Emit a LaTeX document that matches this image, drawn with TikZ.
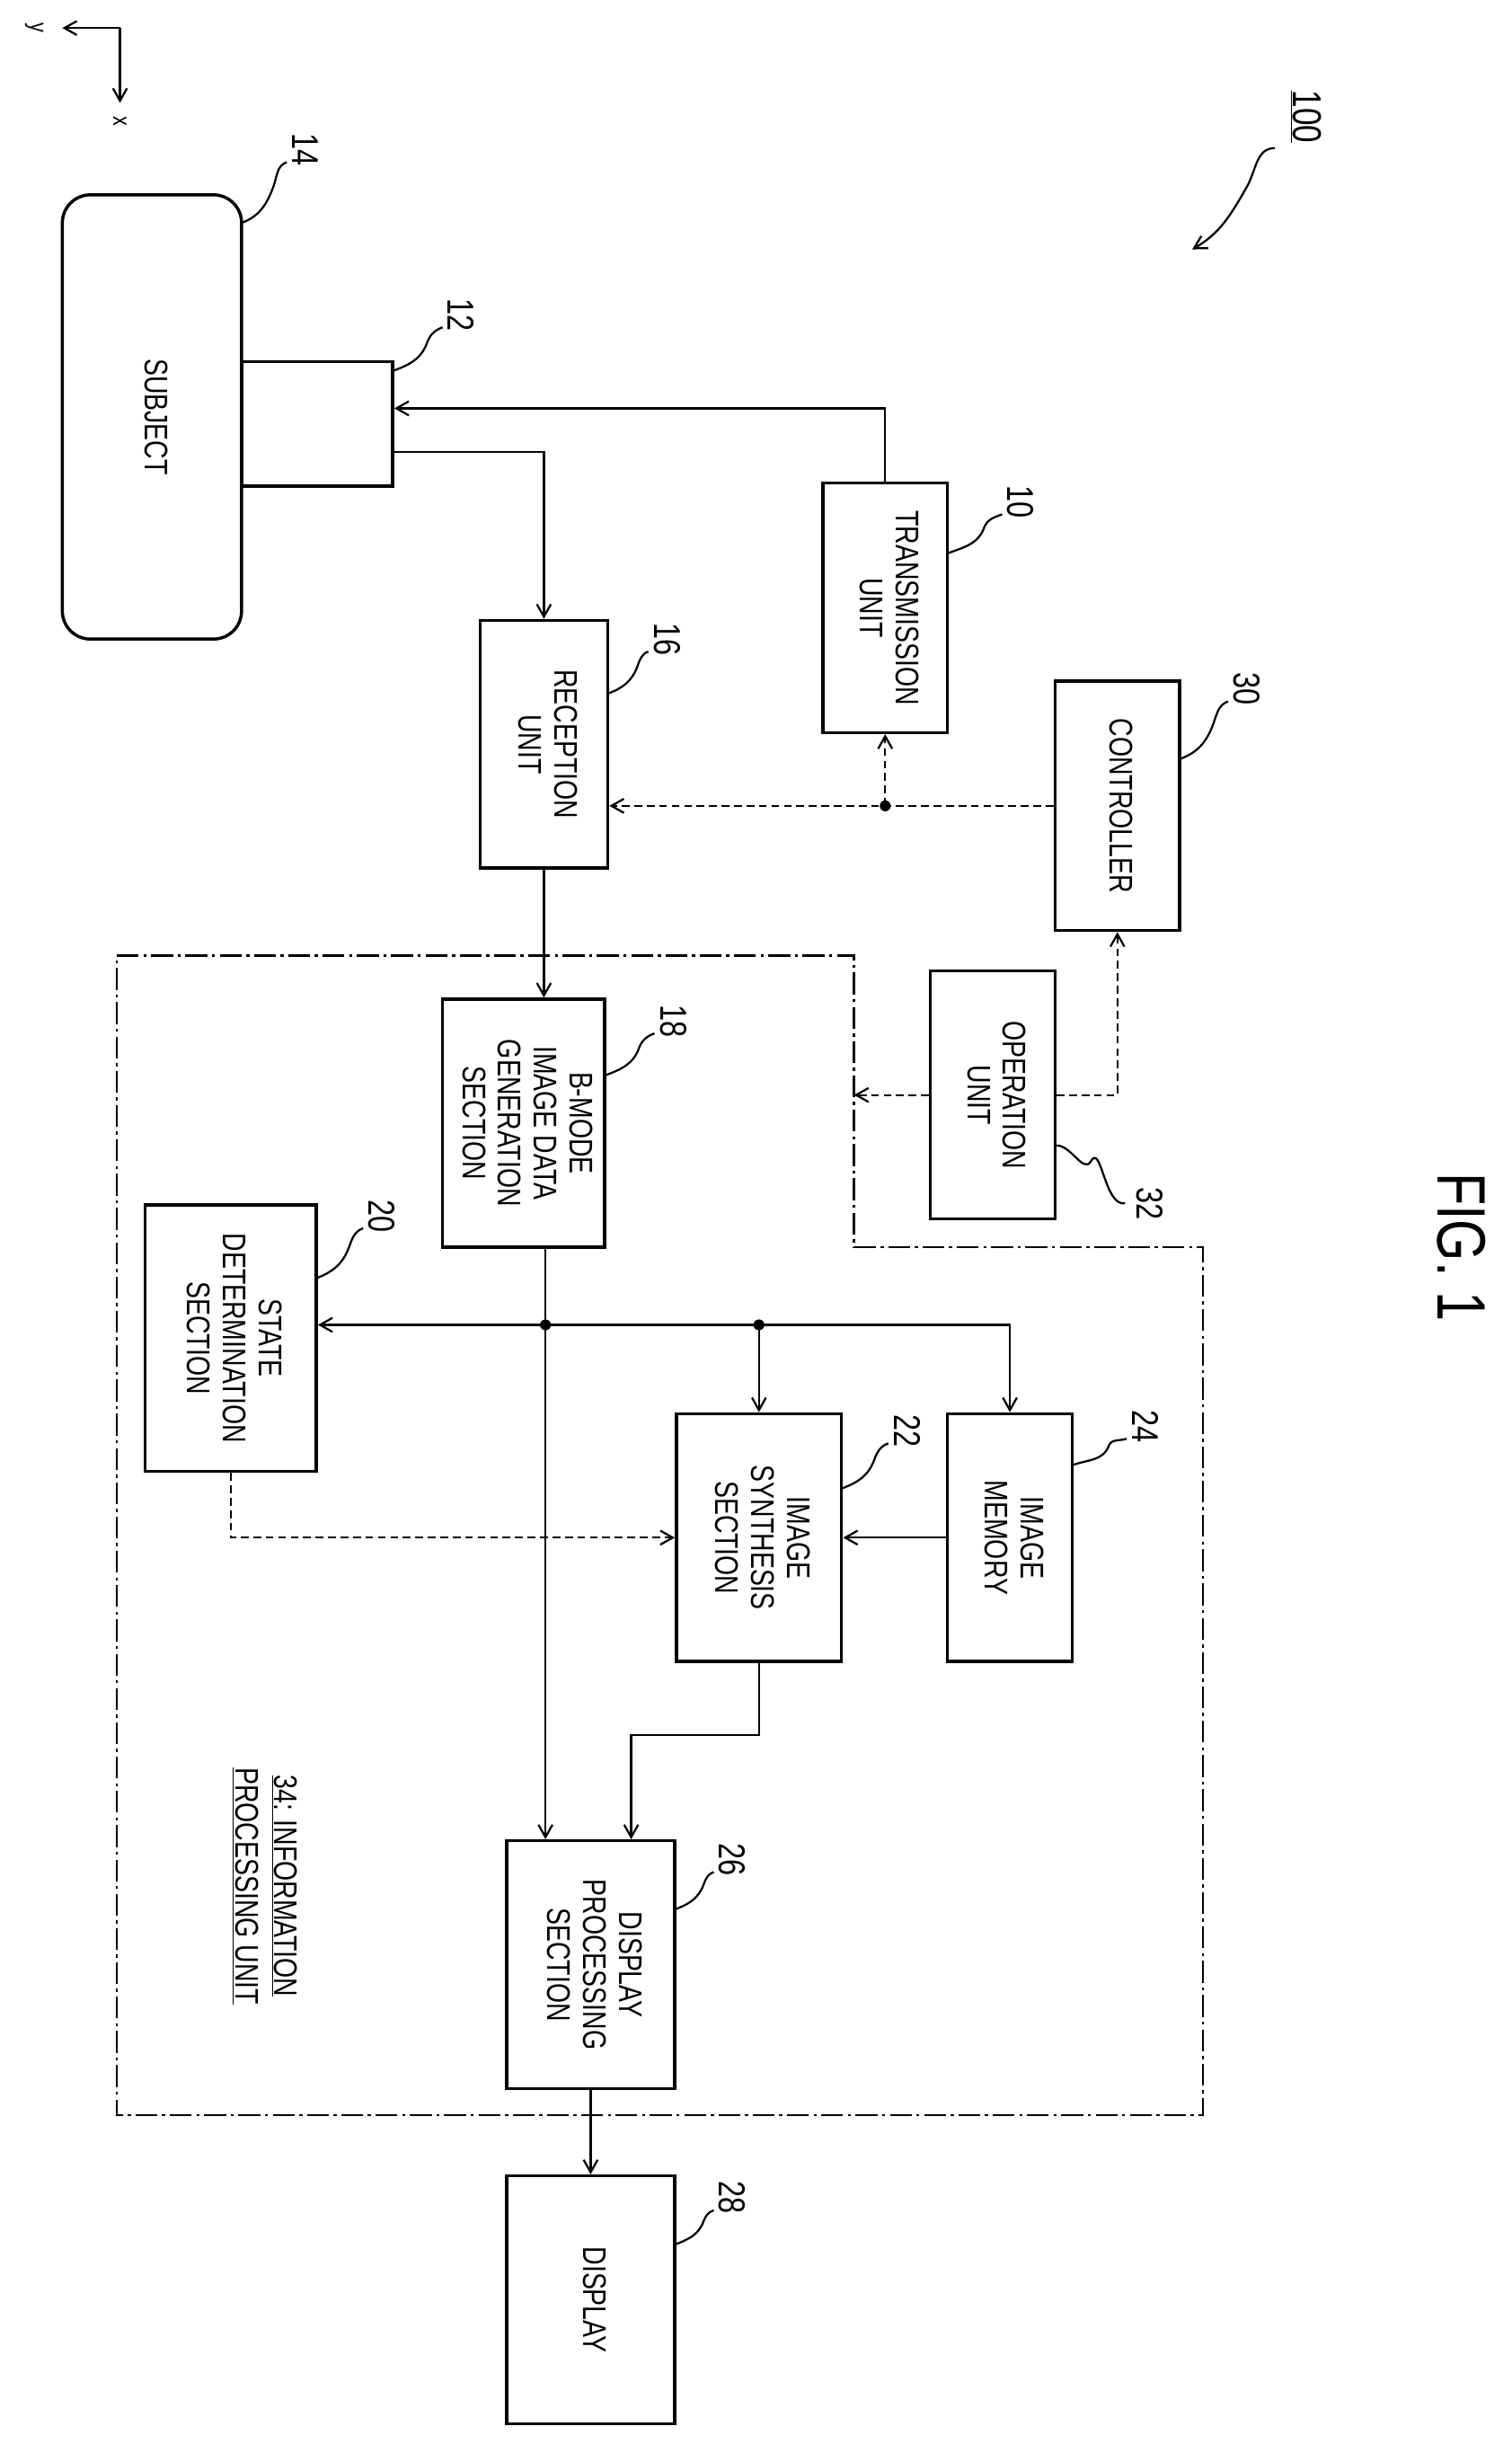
\documentclass[tikz,border=0pt]{standalone}
\usepackage{fontspec}
\setmainfont{Liberation Sans}[FakeStretch=0.78]
\usetikzlibrary{calc,arrows.meta}
\newcommand{\vtext}[1]{\rotatebox{-90}{\begin{tabular}{@{}c@{}}#1\end{tabular}}}
\newcommand{\refmark}[3]{% leader start, label position, text
  \draw[leader] (#1) to[out=20,in=-110] ($(#1)!0.5!(#2)$) to[out=70,in=200] ($(#2)+(-12,8)$);
  \node[reflabel] at (#2) {#3};}
\tikzset{
  box/.style={draw, line width=2pt, inner sep=0pt, font=\fontsize{21}{23}\selectfont},
  conn/.style={line width=1.3pt, -{Straight Barb[length=8pt,width=9pt]}},
  ctrl/.style={conn, dash pattern=on 5pt off 3pt},
  leader/.style={line width=1.3pt},
  reflabel/.style={rotate=-90, font=\fontsize{24}{24}\selectfont},
  dot/.style={circle, fill, inner sep=0pt, minimum size=7pt}
}
\begin{document}
\begin{tikzpicture}[x=1pt, y=-1pt]
  \useasboundingbox (0,0) rectangle (970,1568);

  % axes
  \coordinate (ax) at (77,18);
  \draw[conn] (ax) -- (40,18);
  \draw[conn] (ax) -- (77,66);
  \node[reflabel, font=\fontsize{16}{16}\selectfont] at (22,18) {y};
  \node[reflabel, font=\fontsize{16}{16}\selectfont] at (77,78) {x};

  % blocks
  \node[box, rounded corners=18pt, minimum width=115pt, minimum height=285pt] (subj) at (97.5,267.5) {\vtext{SUBJECT}};
  \node[box, minimum width=97pt, minimum height=80pt] (probe) at (203.5,272) {};
  \node[box, minimum width=80pt, minimum height=160pt] (tx) at (568,390) {\vtext{TRANSMISSION\\UNIT}};
  \node[box, minimum width=82pt, minimum height=159pt] (rx) at (349,477.5) {\vtext{RECEPTION\\UNIT}};
  \node[box, minimum width=80pt, minimum height=160pt] (ctl) at (717,517) {\vtext{CONTROLLER}};
  \node[box, minimum width=80pt, minimum height=159pt] (op) at (637,702.5) {\vtext{OPERATION\\UNIT}};
  \node[box, minimum width=104pt, minimum height=159pt] (bmode) at (336,720.5) {\vtext{B-MODE\\IMAGE DATA\\GENERATION\\SECTION}};
  \node[box, minimum width=110pt, minimum height=171pt] (state) at (148,858.5) {\vtext{STATE\\DETERMINATION\\SECTION}};
  \node[box, minimum width=106pt, minimum height=159pt] (synth) at (487,986.5) {\vtext{IMAGE\\SYNTHESIS\\SECTION}};
  \node[box, minimum width=80pt, minimum height=159pt] (mem) at (648,986.5) {\vtext{IMAGE\\MEMORY}};
  \node[box, minimum width=108pt, minimum height=159pt] (dproc) at (379,1260.5) {\vtext{DISPLAY\\PROCESSING\\SECTION}};
  \node[box, minimum width=108pt, minimum height=159pt] (disp) at (379,1475.5) {\vtext{DISPLAY}};

  % information processing unit
  \draw[line width=1.3pt, dash pattern=on 14pt off 3pt on 2pt off 3pt]
    (75,613) -- (548,613) -- (548,800) -- (772,800) -- (772,1357) -- (75,1357) -- cycle;
  \coordinate (ipu) at (548,702.5);
  \node[rotate=-90, font=\fontsize{21}{25}\selectfont, align=center] (ipulabel) at (170,1210)
    {\underline{34: INFORMATION}\\\underline{PROCESSING UNIT}};

  % signal paths
  \draw[conn] (tx.north) |- ([yshift=10pt]probe.east);
  \draw[conn] ([yshift=-18pt]probe.east) -| (rx.north);
  \draw[conn] (rx.south) -- (rx.south |- bmode.north);
  \coordinate (bmout) at ([xshift=14pt]bmode.south);
  \draw[conn] (bmout) -- (bmout |- dproc.north);
  \coordinate (j1) at ($(bmout |- state.east)+(0,-8.5)$);
  \coordinate (j2) at (synth.north |- j1);
  \node[dot] at (j1) {};
  \node[dot] at (j2) {};
  \draw[conn] (j1) -- (state.east |- j1);
  \draw[conn] (j1) -| (mem.north);
  \draw[conn] (j2) -- (synth.north);
  \draw[conn] (mem.west) -- (synth.east);
  \draw[conn] (synth.south) -- ++(0,46) -| ([xshift=26pt]dproc.north);
  \draw[conn] (dproc.south) -- (disp.north);

  % control paths
  \coordinate (cj) at (tx.south |- ctl.west);
  \draw[ctrl] (ctl.west) -- (rx.east |- ctl.west);
  \node[dot] at (cj) {};
  \draw[ctrl] (cj) -- (tx.south);
  \draw[ctrl] (op.east) -| (ctl.south);
  \draw[ctrl] (op.west) -- (ipu);
  \draw[ctrl] (state.south) |- (synth.west);

  % reference numerals
  \refmark{155,143}{196,96}{14}
  \refmark{252,238}{296,202}{12}
  \refmark{608,355}{655,322}{10}
  \refmark{390,445}{428,410}{16}
  \refmark{757,487}{800,442}{30}
  \refmark{388,690}{432,655}{18}
  \refmark{203,820}{245,780}{20}
  \refmark{540,955}{582,918}{22}
  \refmark{688,940}{735,915}{24}
  \refmark{433,1225}{470,1193}{26}
  \refmark{433,1440}{470,1410}{28}
  \draw[leader] (677,735) to[out=10,in=-120] (700,745) to[out=60,in=190] (722,772);
  \node[reflabel] at (738,772) {32};

  \node[reflabel, font=\fontsize{26}{26}\selectfont] (sys) at (838,75) {\underline{100}};
  \draw[conn] (818,95) to[out=180,in=60] (800,120) to[out=240,in=30] (765,160);
  \node[rotate=-90, font=\fontsize{44}{44}\selectfont] (fig) at (938,800) {FIG. 1};
\end{tikzpicture}
\end{document}
